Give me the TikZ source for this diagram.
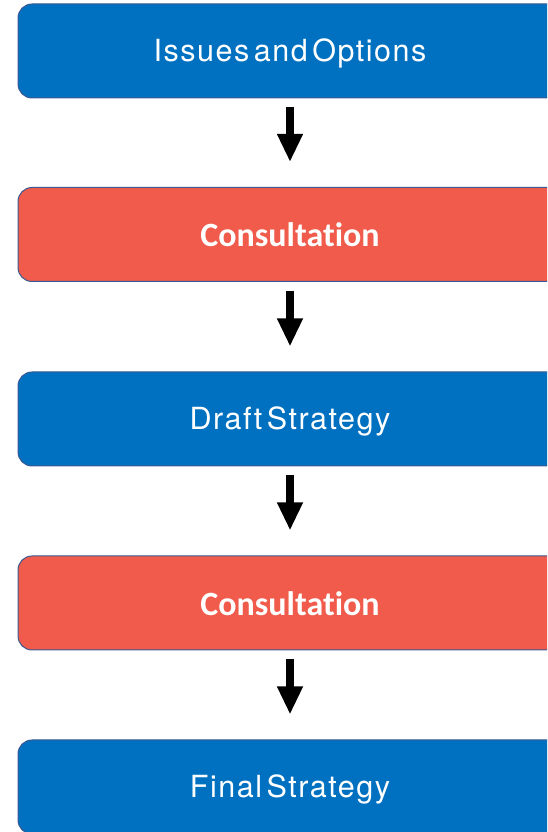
\documentclass[tikz,border=0pt]{standalone}
\usepackage{fontspec}
\setmainfont{Carlito}[Ligatures=NoCommon]
\newfontfamily\stagefont{TeX Gyre Heros}[LetterSpace=5, WordSpace=0.45, Ligatures=NoCommon]
\usetikzlibrary{arrows.meta}
\definecolor{stageblue}{HTML}{0070C0}
\definecolor{stagered}{HTML}{F05B4B}
\definecolor{stageedge}{HTML}{3B5A94}
\tikzset{
  stagebox/.style={draw=stageedge, line width=1pt, rounded corners=14pt,
    minimum width=544pt, minimum height=94pt, inner sep=0pt, text=white,
    text height=26pt, text depth=4pt,
    font=\fontsize{30.5}{34}\selectfont\stagefont},
  planbox/.style={stagebox, fill=stageblue},
  consultbox/.style={stagebox, fill=stagered, text height=28pt, text depth=3pt,
    font=\fontsize{34}{40}\selectfont\bfseries},
  flow/.style={line width=8pt, -{Triangle[length=28pt,width=24pt]},
    shorten <=9pt, shorten >=25pt}
}
\begin{document}
\begin{tikzpicture}[x=1pt,y=1pt]
  \useasboundingbox (0,0) rectangle (547,832);
  \clip (0,0) rectangle (547,832);
  \node[planbox]    (s1) at (290,781) {Issues and Options};
  \node[consultbox] (s2) at (290,597.5) {Consultation};
  \node[planbox]    (s3) at (290,413) {Draft Strategy};
  \node[consultbox] (s4) at (290,229) {Consultation};
  \node[planbox]    (s5) at (290,45) {Final Strategy};
  \draw[flow] (s1.south) -- (s2.north);
  \draw[flow] (s2.south) -- (s3.north);
  \draw[flow] (s3.south) -- (s4.north);
  \draw[flow] (s4.south) -- (s5.north);
\end{tikzpicture}
\end{document}
